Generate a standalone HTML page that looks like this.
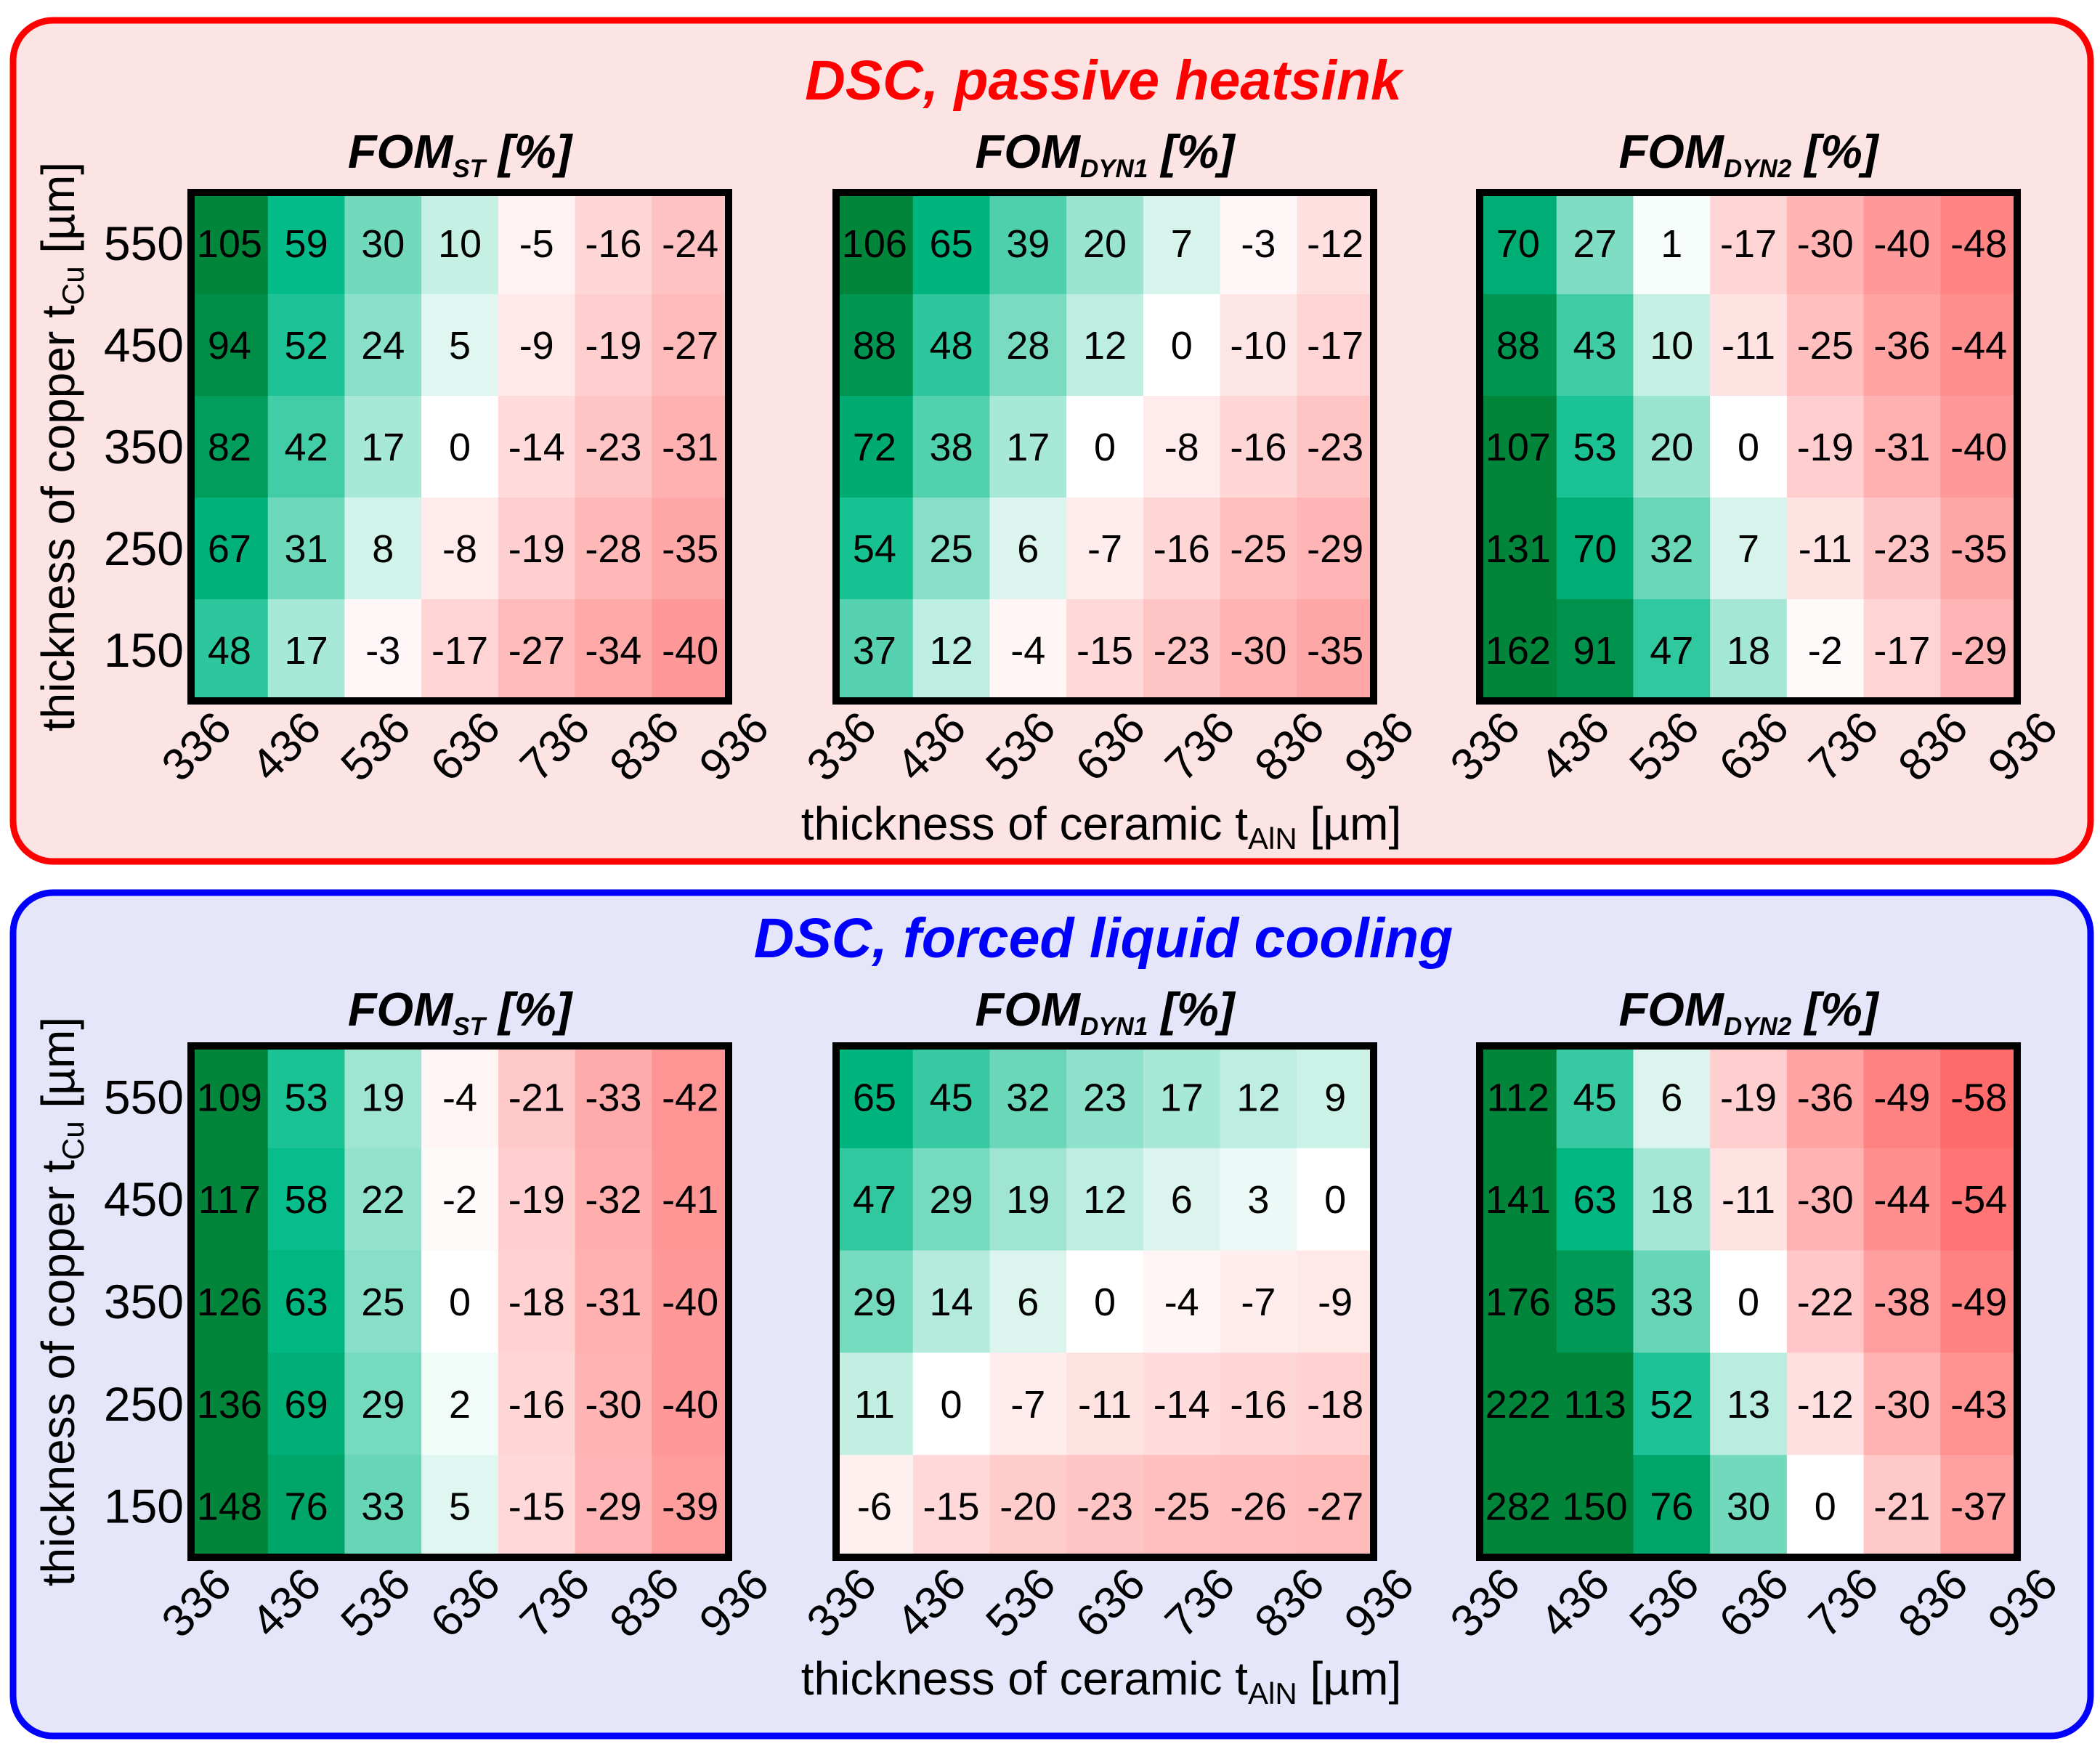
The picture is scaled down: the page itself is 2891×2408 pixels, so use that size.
<!DOCTYPE html>
<html><head><meta charset="utf-8"><style>
html,body{margin:0;padding:0;background:#fff;}
svg{display:block;font-family:"Liberation Sans",sans-serif;}
</style></head><body>
<svg id="fig" width="2891" height="2408" viewBox="0 0 2891 2408" xmlns="http://www.w3.org/2000/svg">
<rect x="18" y="28" width="2860" height="1158" rx="55" fill="#fde4e4" stroke="#ff0000" stroke-width="9"/>
<rect x="18" y="1229" width="2860" height="1161" rx="55" fill="#e6e6fb" stroke="#0000ff" stroke-width="9"/>
<text x="1519" y="137" text-anchor="middle" font-size="77" font-weight="bold" font-style="italic" fill="#ff0000">DSC, passive heatsink</text>
<text x="1519" y="1318" text-anchor="middle" font-size="77" font-weight="bold" font-style="italic" fill="#0000ff">DSC, forced liquid cooling</text>
<g id="plots"></g>
</svg>
<script>
const xTicks = ["336","436","536","636","736","836","936"];
const yTicks = ["550","450","350","250","150"];
const topST = [[105,59,30,10,-5,-16,-24],[94,52,24,5,-9,-19,-27],[82,42,17,0,-14,-23,-31],[67,31,8,-8,-19,-28,-35],[48,17,-3,-17,-27,-34,-40]];
const topDYN1 = [[106,65,39,20,7,-3,-12],[88,48,28,12,0,-10,-17],[72,38,17,0,-8,-16,-23],[54,25,6,-7,-16,-25,-29],[37,12,-4,-15,-23,-30,-35]];
const topDYN2 = [[70,27,1,-17,-30,-40,-48],[88,43,10,-11,-25,-36,-44],[107,53,20,0,-19,-31,-40],[131,70,32,7,-11,-23,-35],[162,91,47,18,-2,-17,-29]];
const botST = [[109,53,19,-4,-21,-33,-42],[117,58,22,-2,-19,-32,-41],[126,63,25,0,-18,-31,-40],[136,69,29,2,-16,-30,-40],[148,76,33,5,-15,-29,-39]];
const botDYN1 = [[65,45,32,23,17,12,9],[47,29,19,12,6,3,0],[29,14,6,0,-4,-7,-9],[11,0,-7,-11,-14,-16,-18],[-6,-15,-20,-23,-25,-26,-27]];
const botDYN2 = [[112,45,6,-19,-36,-49,-58],[141,63,18,-11,-30,-44,-54],[176,85,33,0,-22,-38,-49],[222,113,52,13,-12,-30,-43],[282,150,76,30,0,-21,-37]];
const subs = ["ST","DYN1","DYN2"];

const NS="http://www.w3.org/2000/svg";
const root=document.getElementById('plots');
function mk(tag,attrs,parent){const e=document.createElementNS(NS,tag);for(const k in attrs)e.setAttribute(k,attrs[k]);(parent||root).appendChild(e);return e;}
function color(v){
  if(v<0){const t=Math.min(-v/100,1);const g=Math.round(255*(1-t));return `rgb(255,${g},${g})`;}
  let r,g,b;
  if(v<=60){const t=Math.pow(v/60,0.85);r=255*(1-t);g=255+(187-255)*t;b=255+(136-255)*t;}
  else{const t=Math.min((v-60)/40,1);r=0;g=187+(133-187)*t;b=136+(58-136)*t;}
  return `rgb(${Math.round(r)},${Math.round(g)},${Math.round(b)})`;
}
const lefts=[263,1151,2037];
const W=740;
const panels=[{top:265,H:700,title:209,xl:1134,data:[topST,topDYN1,topDYN2],nm:'passive'},
              {top:1440,H:704,title:1390,xl:2311,data:[botST,botDYN1,botDYN2],nm:'liquid'}];
panels.forEach((p)=>{
  p.data.forEach((d,k)=>{
    const L=lefts[k],T=p.top,H=p.H;
    const g=mk('g',{});
    
    
    const cw=W/xTicks.length, ch=H/yTicks.length;
    const xs=i=>L+i*cw, ys=j=>T+j*ch;
    d.forEach((row,j)=>row.forEach((v,i)=>{
      const r=mk('rect',{x:xs(i),y:ys(j),width:cw+0.5,height:ch+0.5,fill:color(v)},g);
      
      
      const t=mk('text',{x:xs(i)+cw/2,y:ys(j)+ch/2+19,'text-anchor':'middle','font-size':54,fill:'#000'},g);
      t.textContent=v;
      
      
    }));
    const fr=mk('rect',{x:L,y:T,width:W,height:H,fill:'none',stroke:'#000','stroke-width':10},g);
    
    
    xTicks.forEach((lab,i)=>{
      const x=L+i*W/(xTicks.length-1);
      const t=mk('text',{transform:`translate(${x+26},${T+H+8}) rotate(-45)`,'text-anchor':'end','font-size':62,dy:'0.75em'},g);
      t.textContent=lab;
      
      
    });
    const tt=mk('text',{x:L+W/2,y:p.title+22,'text-anchor':'middle','font-size':65,'font-weight':'bold','font-style':'italic'},g);
    tt.innerHTML=`FOM<tspan font-size="35" dy="13">${subs[k]}</tspan><tspan dy="-13"> [%]</tspan>`;
    
    
    if(k===0){
      yTicks.forEach((lab,j)=>{
        const t=mk('text',{x:L-10,y:T+(j+0.5)*ch+23,'text-anchor':'end','font-size':66},g);
        t.textContent=lab;
        
        
      });
      const yl=mk('text',{transform:`translate(102,${T+H/2}) rotate(-90)`,'text-anchor':'middle','font-size':64});
      yl.innerHTML='thickness of copper t<tspan font-size="42" dy="13">Cu</tspan><tspan dy="-13"> [µm]</tspan>';
      
      
    }
  });
  const xl=mk('text',{x:1516,y:p.xl+22,'text-anchor':'middle','font-size':64});
  xl.innerHTML='thickness of ceramic t<tspan font-size="42" dy="13">AlN</tspan><tspan dy="-13"> [µm]</tspan>';
  
  
});
</script>
</body></html>
